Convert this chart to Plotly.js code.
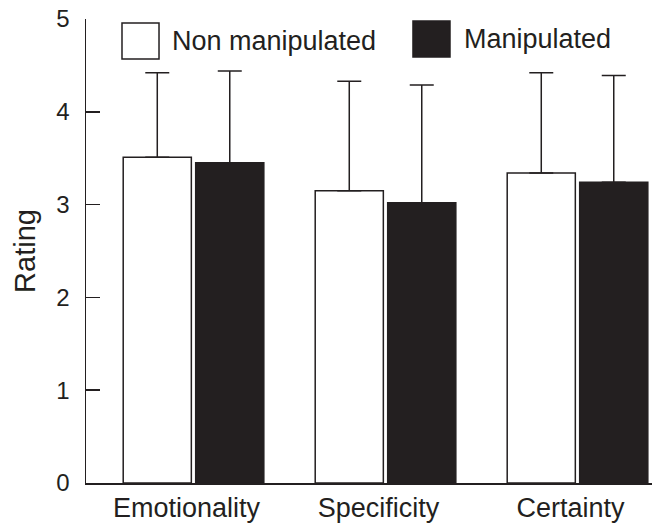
<!DOCTYPE html>
<html><head><meta charset="utf-8">
<script src="https://cdn.plot.ly/plotly-3.0.1.min.js"></script>
<style>html,body{margin:0;padding:0;background:#fff}#chart{width:652px;height:525px}</style>
</head><body><div id="chart"></div>
<script>
var categories = ["Emotionality", "Specificity", "Certainty"];
var nonManipMeans = [3.51, 3.15, 3.34];
var nonManipSD = [0.91, 1.18, 1.08];
var manipMeans = [3.45, 3.02, 3.24];
var manipSD = [0.99, 1.27, 1.15];
var seriesNames = ["Non manipulated", "Manipulated"];
var yTicks = [0, 1, 2, 3, 4, 5];

var ink = "#231f20";
var fontFam = "Liberation Sans, Arial, Helvetica, sans-serif";

function zeros(n){var a=[];for(var i=0;i<n;i++)a.push(0);return a;}

var traces = [
  {type:"bar", name:seriesNames[0], x:categories, y:nonManipMeans,
   marker:{color:"#ffffff", line:{color:ink, width:1.5}},
   error_y:{type:"data", symmetric:false, array:nonManipSD, arrayminus:zeros(nonManipSD.length), color:ink, thickness:1.5, width:12},
   showlegend:false},
  {type:"bar", name:seriesNames[1], x:categories, y:manipMeans,
   marker:{color:ink, line:{color:ink, width:1.5}},
   error_y:{type:"data", symmetric:false, array:manipSD, arrayminus:zeros(manipSD.length), color:ink, thickness:1.5, width:12},
   showlegend:false}
];

var layout = {
  width:652, height:525,
  margin:{l:86, r:0, t:19, b:42, pad:0},
  paper_bgcolor:"#fff", plot_bgcolor:"#fff",
  font:{family:fontFam, color:ink},
  barmode:"group", bargap:0.245, bargroupgap:0.06,
  xaxis:{type:"category", range:[-0.56, 2.388], showline:true, linecolor:ink, linewidth:1.5,
    ticks:"", showgrid:false, zeroline:false, tickfont:{size:27, color:ink}, ticklabelshift:-7, ticklabelstandoff:0},
  yaxis:{range:[0,5], tickvals:yTicks, ticktext:yTicks.map(String), showline:true, linecolor:ink, linewidth:1.5,
    ticks:"inside", ticklen:14, tickwidth:1.5, tickcolor:ink, showgrid:false, zeroline:false,
    tickfont:{size:24, color:ink}, ticklabelstandoff:10,
    title:{text:"Rating", font:{size:29, color:ink}, standoff:12}},
  shapes:[
    {type:"rect", xref:"paper", yref:"paper", x0:0.0636, x1:0.1290, y0:0.9138, y1:0.9914, fillcolor:"#ffffff", line:{color:ink, width:1.5}},
    {type:"rect", xref:"paper", yref:"paper", x0:0.5777, x1:0.6431, y0:0.9181, y1:0.9957, fillcolor:ink, line:{color:ink, width:1.5}}
  ],
  annotations:[
    {xref:"paper", yref:"paper", x:0.1484, y:0.9526, xanchor:"left", yanchor:"middle", text:seriesNames[0], showarrow:false, font:{size:27, color:ink}},
    {xref:"paper", yref:"paper", x:0.6643, y:0.9569, xanchor:"left", yanchor:"middle", text:seriesNames[1], showarrow:false, font:{size:27, color:ink}}
  ]
};

Plotly.newPlot("chart", traces, layout, {displayModeBar:false, staticPlot:true});
</script></body></html>
